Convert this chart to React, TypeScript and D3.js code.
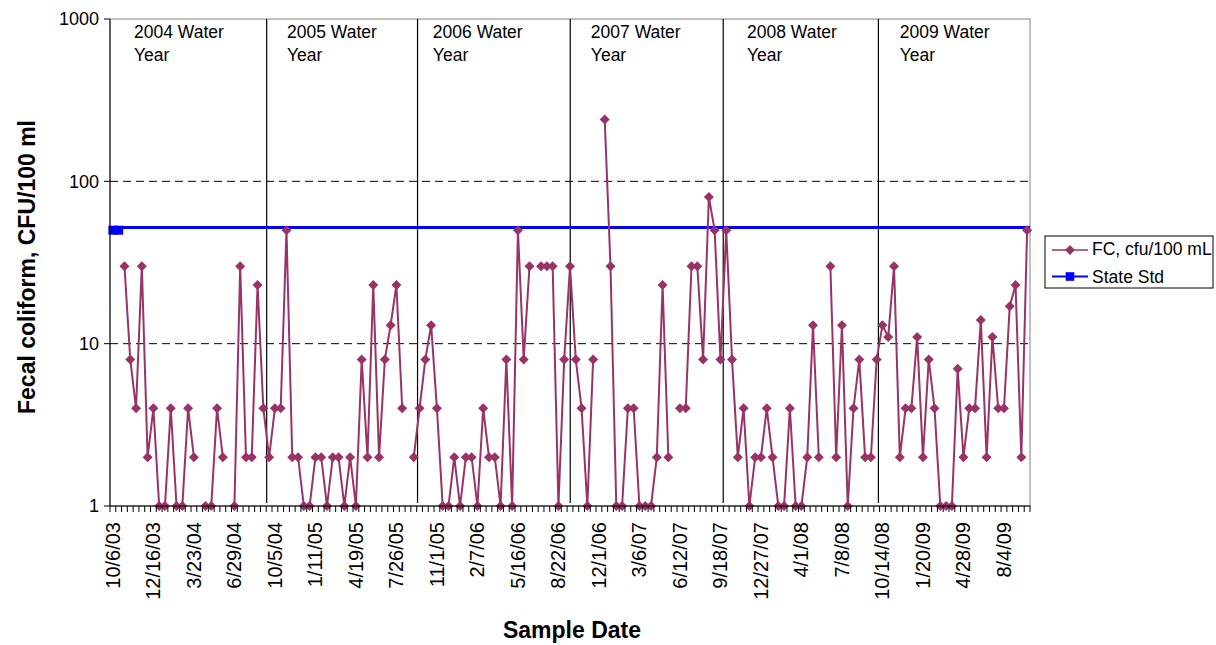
import React from "react";
import * as d3 from "d3";

// FC sample values per sampling date (category), null = no sample
const fcValues: (number | null)[] = [
  null, null, 30, 8, 4, 30, 2, 4, 1, 1,
  4, 1, 1, 4, 2, null, 1, 1, 4, 2,
  null, 1, 30, 2, 2, 23, 4, 2, 4, 4,
  50, 2, 2, 1, 1, 2, 2, 1, 2, 2,
  1, 2, 1, 8, 2, 23, 2, 8, 13, 23,
  4, null, 2, 4, 8, 13, 4, 1, 1, 2,
  1, 2, 2, 1, 4, 2, 2, 1, 8, 1,
  50, 8, 30, null, 30, 30, 30, 1, 8, 30,
  8, 4, 1, 8, null, 240, 30, 1, 1, 4,
  4, 1, 1, 1, 2, 23, 2, null, 4, 4,
  30, 30, 8, 80, 50, 8, 50, 8, 2, 4,
  1, 2, 2, 4, 2, 1, 1, 4, 1, 1,
  2, 13, 2, null, 30, 2, 13, 1, 4, 8,
  2, 2, 8, 13, 11, 30, 2, 4, 4, 11,
  2, 8, 4, 1, 1, 1, 7, 2, 4, 4,
  14, 2, 11, 4, 4, 17, 23, 2, 50,
];

// State standard series (markers at first two categories) and the drawn standard line
const stateStdValues: number[] = [50, 50];
const stdLineValue = 52;

// Category axis labels, shown every 7th category
const tickLabels: string[] = [
  "10/6/03", "12/16/03", "3/23/04", "6/29/04", "10/5/04", "1/11/05",
  "4/19/05", "7/26/05", "11/1/05", "2/7/06", "5/16/06", "8/22/06",
  "12/1/06", "3/6/07", "6/12/07", "9/18/07", "12/27/07", "4/1/08",
  "7/8/08", "10/14/08", "1/20/09", "4/28/09", "8/4/09",
];
const tickEvery = 7;

const yTicks: number[] = [1, 10, 100, 1000];

// Water-year separators (category positions) and labels
const waterYearBreaks: number[] = [27.08, 53.15, 79.54, 105.98, 132.8];
const waterYearLabels: string[] = ["2004", "2005", "2006", "2007", "2008", "2009"];
const waterYearLabelPos: number[] = [4.15, 30.6, 55.8, 83.1, 110.1, 136.5];

const legendItems = ["FC, cfu/100 mL", "State Std"];

const FC_COLOR = "#993366";
const STD_COLOR = "#0000FF";
const FONT = "'Liberation Sans', Arial, sans-serif";

export default function App() {
  const W = 1216;
  const H = 645;
  const left = 110, right = 1030, top = 19, bottom = 506;
  const N = fcValues.length;

  const xLin = d3.scaleLinear().domain([0, N]).range([left, right]);
  const cx = (i: number) => xLin(i + 0.5);
  const y = d3.scaleLog().domain([1, 1000]).range([bottom, top]);

  const fcLine = d3
    .line<number | null>()
    .defined((d) => d != null)
    .x((_, i) => cx(i))
    .y((d) => y(d as number));

  const stdLine = d3
    .line<number>()
    .x((_, i) => cx(i))
    .y((d) => y(d));

  const diamond = (x: number, yy: number, r: number) =>
    `M${x},${yy - r}L${x + r},${yy}L${x},${yy + r}L${x - r},${yy}Z`;

  const boundaries = d3.range(N + 1);

  return (
    <svg
      width={W}
      height={H}
      style={{ position: "absolute", left: 0, top: 0, background: "#fff" }}
      fontFamily={FONT}
    >
      <rect x={0} y={0} width={W} height={H} fill="#fff" />
      {/* plot border */}
      <rect x={left} y={top} width={right - left} height={bottom - top} fill="none" stroke="#808080" strokeWidth={1} />

      {/* gridlines */}
      {yTicks
        .filter((t) => t > 1 && t < 1000)
        .map((t) => (
          <line key={"g" + t} x1={left} x2={right} y1={y(t)} y2={y(t)} stroke="#000" strokeWidth={1} strokeDasharray="8,5" />
        ))}

      {/* water year separators */}
      {waterYearBreaks.map((b, i) => (
        <line key={"wy" + i} x1={xLin(b)} x2={xLin(b)} y1={top} y2={bottom - 3} stroke="#000" strokeWidth={1.2} />
      ))}

      {/* water year labels */}
      {waterYearLabels.map((lab, i) => (
        <text key={"wyl" + i} x={xLin(waterYearLabelPos[i])} y={37.5} fontSize={17.5} fill="#000">
          <tspan x={xLin(waterYearLabelPos[i])}>{lab} Water</tspan>
          <tspan x={xLin(waterYearLabelPos[i])} dy={23}>Year</tspan>
        </text>
      ))}

      {/* state std line */}
      <line x1={left} x2={right} y1={y(stdLineValue)} y2={y(stdLineValue)} stroke={STD_COLOR} strokeWidth={3} />
      <path d={stdLine(stateStdValues) || ""} fill="none" stroke={STD_COLOR} strokeWidth={3} />
      {stateStdValues.map((v, i) => (
        <rect key={"sm" + i} x={cx(i) - 4.5} y={y(v) - 4.5} width={9} height={9} fill={STD_COLOR} />
      ))}

      {/* FC series */}
      <path d={fcLine(fcValues) || ""} fill="none" stroke={FC_COLOR} strokeWidth={2} />
      {fcValues.map((v, i) =>
        v == null ? null : <path key={"fc" + i} d={diamond(cx(i), y(v), 5)} fill={FC_COLOR} />
      )}

      {/* axes */}
      <line x1={left} x2={left} y1={top} y2={bottom} stroke="#000" strokeWidth={1} />
      <line x1={left} x2={right} y1={bottom} y2={bottom} stroke="#000" strokeWidth={1} />
      {yTicks.map((t) => (
        <g key={"yt" + t}>
          <line x1={left - 6} x2={left} y1={y(t)} y2={y(t)} stroke="#000" />
          <text x={left - 11} y={y(t)} dy="0.35em" textAnchor="end" fontSize={18}>
            {t}
          </text>
        </g>
      ))}
      {boundaries.map((b) => (
        <line key={"xt" + b} x1={xLin(b)} x2={xLin(b)} y1={bottom} y2={bottom + 6} stroke="#000" strokeWidth={1} />
      ))}
      {tickLabels.map((lab, k) => (
        <text
          key={"xl" + k}
          transform={`translate(${cx(k * tickEvery)},${bottom + 16}) rotate(-90)`}
          textAnchor="end"
          dy="0.35em"
          fontSize={20}
        >
          {lab}
        </text>
      ))}

      {/* axis titles */}
      <text transform={`translate(35,267) rotate(-90)`} textAnchor="middle" fontSize={23} fontWeight="bold">
        Fecal coliform, CFU/100 ml
      </text>
      <text x={572} y={638} textAnchor="middle" fontSize={23} fontWeight="bold">
        Sample Date
      </text>

      {/* legend */}
      <rect x={1045} y={236} width={168} height={52} fill="#fff" stroke="#000" strokeWidth={1} />
      {legendItems.map((lab, i) => {
        const ly = i === 0 ? 250 : 276.5;
        return (
          <g key={"lg" + i}>
            <line x1={1052} x2={1088} y1={ly} y2={ly} stroke={i === 0 ? FC_COLOR : STD_COLOR} strokeWidth={i === 0 ? 1.5 : 2} />
            {i === 0 ? (
              <path d={diamond(1070, ly, 5)} fill={FC_COLOR} />
            ) : (
              <rect x={1070 - 4.3} y={ly - 4.3} width={8.6} height={8.6} fill={STD_COLOR} />
            )}
            <text x={1092} y={ly + 3.5 + (i === 0 ? 0 : 1)} dy="0.1em" fontSize={17.5}>
              {lab}
            </text>
          </g>
        );
      })}
    </svg>
  );
}
